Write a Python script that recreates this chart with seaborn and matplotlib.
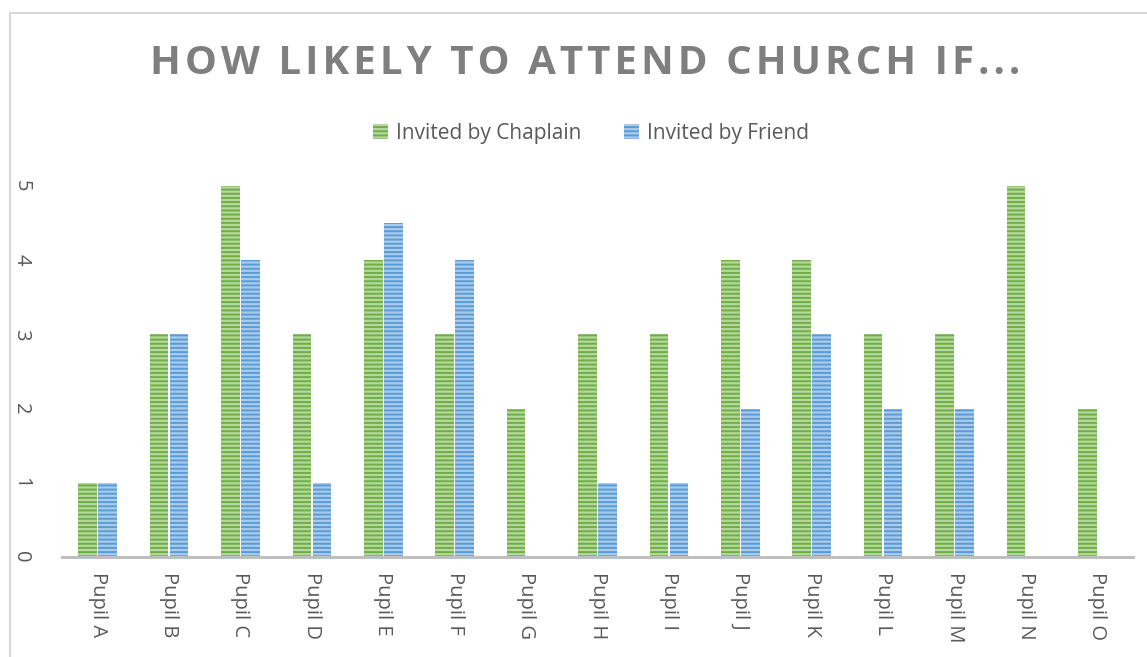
import matplotlib
matplotlib.use("Agg")
import matplotlib.pyplot as plt
import matplotlib.patches as mpatches
import seaborn as sns
import pandas as pd

categories = ["Pupil A", "Pupil B", "Pupil C", "Pupil D", "Pupil E", "Pupil F", "Pupil G",
              "Pupil H", "Pupil I", "Pupil J", "Pupil K", "Pupil L", "Pupil M", "Pupil N", "Pupil O"]
chaplain = [1, 3, 5, 3, 4, 3, 2, 3, 3, 4, 4, 3, 3, 5, 2]
friend = [1, 3, 4, 1, 4.5, 4, 0, 1, 1, 2, 3, 2, 2, 0, 0]
series_names = ["Invited by Chaplain", "Invited by Friend"]
title = "HOW LIKELY TO ATTEND CHURCH IF..."

sns.set_theme(style="white")
plt.rcParams['font.family'] = ['Open Sans', 'DejaVu Sans']
plt.rcParams['hatch.linewidth'] = 1.4

dark = {"Invited by Chaplain": "#70AD47", "Invited by Friend": "#5B9BD5"}
light = {"Invited by Chaplain": "#B5D99C", "Invited by Friend": "#A9CBEC"}

df = pd.DataFrame({
    "cat": categories * 2,
    "val": chaplain + friend,
    "series": [series_names[0]] * len(categories) + [series_names[1]] * len(categories),
})

fig = plt.figure(figsize=(11.47, 6.57), dpi=100)
ax = fig.add_axes([62 / 1147, (657 - 557) / 657, (1133 - 62) / 1147, (557 - 186) / 657])

sns.barplot(data=df, x="cat", y="val", hue="series", order=categories,
            hue_order=series_names, palette=dark, width=0.56, gap=0.07,
            ax=ax, legend=False, saturation=1)

# apply striped fill
n = len(categories)
for i, patch in enumerate(ax.patches[:2 * n]):
    s = series_names[i // n]
    patch.set_facecolor(light[s])
    patch.set_edgecolor(dark[s])
    patch.set_hatch("----")
    patch.set_linewidth(0)

ax.set_ylim(0, 5)
ax.set_xlim(-0.5, n - 0.5)
ax.set_xlabel("")
ax.set_ylabel("")
for sp in ["top", "right", "left"]:
    ax.spines[sp].set_visible(False)
ax.spines["bottom"].set_color("#BFBFBF")
ax.spines["bottom"].set_linewidth(2.2)
ax.tick_params(axis="both", length=0, colors="#595959", labelsize=14.5)
ax.set_yticks([0, 1, 2, 3, 4, 5])
ax.set_yticklabels(["0", "1", "2", "3", "4", "5"], rotation=-90, va="center")
ax.tick_params(axis="y", pad=22)
ax.tick_params(axis="x", pad=11)
ax.set_xticks(range(n))
ax.set_xticklabels(categories, rotation=-90, ha="center", va="top")

# title
fig.text(585 / 1147, 1 - 64 / 657, "\u200a".join(title), ha="center", va="center",
         fontsize=29, fontweight="bold", color="#7F7F7F")

# legend
handles = [mpatches.Patch(facecolor=light[s], edgecolor=dark[s], hatch="----", linewidth=0, label=s)
           for s in series_names]
fig.legend(handles=handles, loc="center", bbox_to_anchor=(591 / 1147, 1 - 133 / 657), ncol=2,
           frameon=False, fontsize=15, labelcolor="#595959", handlelength=0.75, handleheight=0.75,
           handletextpad=0.4, columnspacing=2.0)

# chart frame
fig.patches.append(mpatches.Rectangle((10 / 1147, -0.1), 1.2, (657 - 13) / 657 + 0.1,
                                      transform=fig.transFigure, fill=False,
                                      edgecolor="#D9D9D9", linewidth=1.5))

fig.savefig("out.png", dpi=100)
